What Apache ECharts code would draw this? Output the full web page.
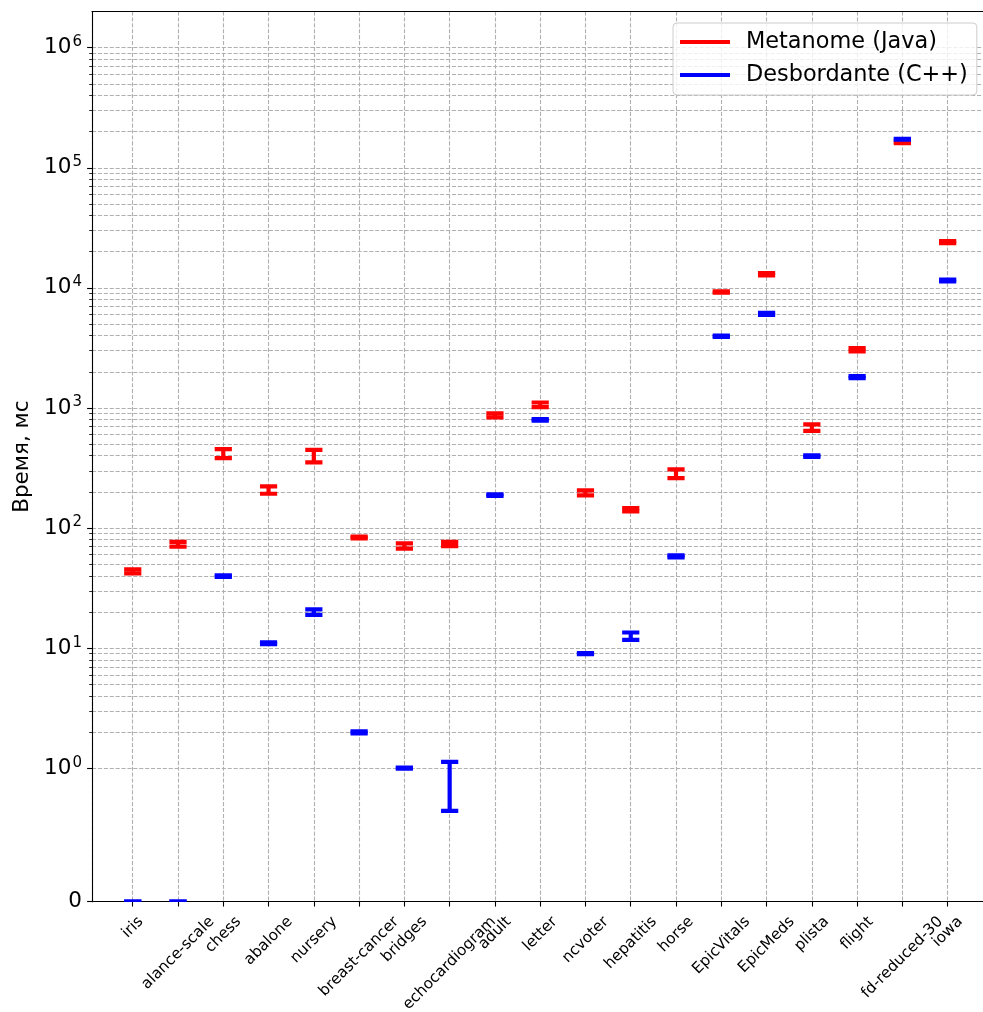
<!DOCTYPE html>
<html><head><meta charset="utf-8">
<script src="https://cdn.jsdelivr.net/npm/echarts@6/dist/echarts.min.js"></script>
<style>html,body{margin:0;padding:0;background:#fff}#c{width:983px;height:1012px}</style>
</head><body><div id="c"></div>
<script>
const categories = ['iris','alance-scale','chess','abalone','nursery','breast-cancer','bridges','echocardiogram','adult','letter','ncvoter','hepatitis','horse','EpicVitals','EpicMeds','plista','flight','fd-reduced-30','iowa'];
const metanomeMin = [42, 70, 382, 193, 352, 82, 67.5, 70.7, 834, 1015, 187, 137.5, 260, 9100, 12700, 645, 2960, 160000, 23600];
const metanomeMax = [45.3, 76.6, 454, 222, 448, 85, 74.5, 76.7, 900, 1110, 206, 146.5, 308, 9350, 13300, 730, 3150, 164000, 24500];
const desbordanteMin = [0, 0, 39.2, 10.8, 18.9, 1.95, 0.997, 0.68, 185, 785, 8.9, 11.7, 57, 3900, 5950, 392, 1775, 171500, 11300];
const desbordanteMax = [0, 0, 40.3, 11.2, 21, 2.03, 1.013, 1.13, 191, 807, 9.1, 13.5, 59.3, 4000, 6200, 403, 1840, 174000, 11700];
const seriesNames = ['Metanome (Java)', 'Desbordante (C++)'];
const yMaxValue = 2e6;
const majorTickValues = [0, 1, 10, 100, 1000, 10000, 100000, 1000000];
const majorTickExponents = [null, 0, 1, 2, 3, 4, 5, 6];
const minorTickValues = [2,3,4,5,6,7,8,9, 20,30,40,50,60,70,80,90, 200,300,400,500,600,700,800,900,
  2000,3000,4000,5000,6000,7000,8000,9000, 20000,30000,40000,50000,60000,70000,80000,90000,
  200000,300000,400000,500000,600000,700000,800000,900000];

const LIN = 1 / (1 - 1 / 10);
function symlog(v) { return v <= 1 ? v * LIN : LIN + Math.log10(v); }

const X_MIN = -0.9, X_MAX = 18.9;
const catIdx = categories.map((c, i) => i);
// sentinel positions at the axis ends keep ECharts' min/max-label hiding away from real labels
const xTickPositions = [X_MIN].concat(catIdx, [X_MAX]);
const metaData = catIdx.map(i => [i, symlog(metanomeMin[i]), symlog(metanomeMax[i])]);
const desbData = catIdx.map(i => [i, symlog(desbordanteMin[i]), symlog(desbordanteMax[i])]);

const FONT = 'DejaVu Sans';
const XFS = 15.3;
const ctx = document.createElement('canvas').getContext('2d');
ctx.font = XFS + 'px "' + FONT + '"';
const xRich = {};
categories.forEach((c, i) => {
  const w = ctx.measureText(c).width;
  const p = Math.SQRT2 * 12.2 + (w + 15.5) / 2;
  xRich['t' + i] = { fontSize: XFS, fontFamily: FONT, color: '#000', padding: [p, p, 0, 0] };
});

function makeRender(color) {
  return function (params, api) {
    const x = api.value(0);
    const lo = api.coord([x, api.value(1)]);
    const hi = api.coord([x, api.value(2)]);
    const hw = 8.6;
    const style = { stroke: color, lineWidth: 4.2, fill: null };
    return { type: 'group', children: [
      { type: 'line', shape: { x1: lo[0], y1: lo[1], x2: hi[0], y2: hi[1] }, style: style },
      { type: 'line', shape: { x1: lo[0] - hw, y1: lo[1], x2: lo[0] + hw, y2: lo[1] }, style: style },
      { type: 'line', shape: { x1: hi[0] - hw, y1: hi[1], x2: hi[0] + hw, y2: hi[1] }, style: style }
    ]};
  };
}

const gridLine = { show: true, lineStyle: { color: '#b0b0b0', width: 1.1, type: [4.1, 1.8] } };
const spine = { show: true, onZero: false, lineStyle: { color: '#000', width: 1.1 } };
const yMax = symlog(yMaxValue);
const majorT = majorTickValues.map(symlog);

const chart = echarts.init(document.getElementById('c'), null, { renderer: 'canvas' });
chart.setOption({
  animation: false,
  backgroundColor: '#fff',
  textStyle: { fontFamily: FONT },
  grid: { left: 92, width: 896.4, top: 11.5, bottom: 110.3, show: false, containLabel: false, outerBoundsMode: 'none' },
  legend: {
    data: seriesNames, orient: 'vertical', left: 673, top: 23,
    padding: [7, 9, 8, 7], itemGap: 9, itemWidth: 50, itemHeight: 4, icon: 'rect',
    backgroundColor: 'rgba(255,255,255,0.8)', borderColor: '#cccccc', borderWidth: 1, borderRadius: 4,
    textStyle: { fontSize: 22.4, fontFamily: FONT, color: '#000', lineHeight: 24, padding: [0, 0, 0, 11] }
  },
  xAxis: [{
    type: 'value', min: X_MIN, max: X_MAX, position: 'bottom',
    axisLine: spine,
    axisTick: { show: true, customValues: xTickPositions, length: 4.9, lineStyle: { color: '#000', width: 1.1 } },
    axisLabel: {
      customValues: xTickPositions, rotate: 45, align: 'center', verticalAlign: 'middle', margin: 0,
      showMinLabel: false, showMaxLabel: false, hideOverlap: false,
      formatter: function (v) {
        const i = Math.round(v);
        if (Math.abs(v - i) > 1e-6 || !categories[i]) return '';
        return '{t' + i + '|' + categories[i] + '}';
      },
      rich: xRich
    },
    splitLine: gridLine
  }, {
    type: 'value', min: X_MIN, max: X_MAX, position: 'top',
    axisLine: spine, axisTick: { show: false }, axisLabel: { show: false }, splitLine: { show: false }
  }],
  yAxis: [{
    type: 'value', min: 0, max: yMax, position: 'left',
    name: 'Время, мс', nameLocation: 'middle', nameGap: 56,
    nameTextStyle: { fontSize: 21.5, fontFamily: FONT, color: '#000' },
    axisLine: spine,
    axisTick: { show: true, customValues: majorT, length: 4.9, lineStyle: { color: '#000', width: 1.1 } },
    axisLabel: {
      customValues: majorT, margin: 10, fontSize: 21.5, fontFamily: FONT, color: '#000',
      showMinLabel: true, showMaxLabel: true,
      formatter: function (v) {
        const i = majorT.findIndex(t => Math.abs(t - v) < 1e-6);
        if (i <= 0) return '0';
        return '{b|10}{s|' + majorTickExponents[i] + '}';
      },
      rich: {
        b: { fontSize: 21.5, fontFamily: FONT, color: '#000' },
        s: { fontSize: 15, fontFamily: FONT, color: '#000', padding: [0, 0, 11, 1] }
      }
    },
    splitLine: gridLine
  }, {
    type: 'value', min: 0, max: yMax, position: 'left',
    axisLine: { show: false, onZero: false },
    axisTick: { show: true, customValues: minorTickValues.map(symlog), length: 2.8, lineStyle: { color: '#000', width: 0.83 } },
    axisLabel: { show: false, customValues: minorTickValues.map(symlog) },
    splitLine: gridLine
  }],
  series: [{
    name: seriesNames[0], type: 'custom', xAxisIndex: 0, yAxisIndex: 0, clip: true,
    itemStyle: { color: '#ff0000' }, encode: { x: 0, y: [1, 2] },
    renderItem: makeRender('#ff0000'), data: metaData
  }, {
    name: seriesNames[1], type: 'custom', xAxisIndex: 0, yAxisIndex: 0, clip: true,
    itemStyle: { color: '#0000ff' }, encode: { x: 0, y: [1, 2] },
    renderItem: makeRender('#0000ff'), data: desbData
  }]
});
</script>
</body></html>
